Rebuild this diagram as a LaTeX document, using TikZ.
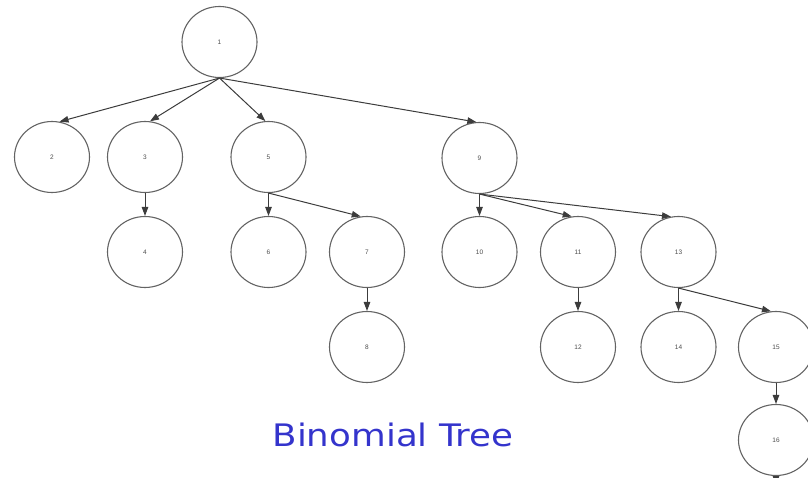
\documentclass[tikz,border=0pt]{standalone}
\usepackage{fontspec}
\setsansfont{DejaVu Sans}
\newfontfamily\labelfont{Liberation Sans}
\usetikzlibrary{shapes.geometric,arrows.meta}
\definecolor{titleblue}{RGB}{52,52,204}
\definecolor{linegray}{RGB}{60,60,60}
\tikzset{
  tnode/.style={ellipse, draw=linegray!80, line width=1.1pt, minimum width=75pt, minimum height=71pt, inner sep=0pt,
    font=\labelfont\fontsize{6.5}{7}\selectfont, text=black!70},
  tedge/.style={draw=linegray, line width=1pt, -{Triangle[length=9pt,width=6.5pt]}}
}
\begin{document}
\begin{tikzpicture}[x=1pt,y=-1pt]
\useasboundingbox (0,0) rectangle (808,478);
\node[tnode] (n1) at (219.5,42) {1};
\node[tnode] (n2) at (52,157) {2};
\node[tnode] (n3) at (145,157) {3};
\node[tnode] (n5) at (268.5,157) {5};
\node[tnode] (n9) at (479.5,158) {9};
\node[tnode] (n4) at (145,252) {4};
\node[tnode] (n6) at (268.5,252) {6};
\node[tnode] (n7) at (367,252) {7};
\node[tnode] (n10) at (479.5,252) {10};
\node[tnode] (n11) at (578,252) {11};
\node[tnode] (n13) at (678.5,252) {13};
\node[tnode] (n8) at (367,347) {8};
\node[tnode] (n12) at (578,347) {12};
\node[tnode] (n14) at (678.5,347) {14};
\node[tnode] (n15) at (776,347) {15};
\node[tnode] (n16) at (776,440) {16};
\coordinate (n17) at (776,485);
\draw[tedge] (n1.south) -- (n2.78);
\draw[tedge] (n1.south) -- (n3.82);
\draw[tedge] (n1.south) -- (n5.95);
\draw[tedge] (n1.south) -- (n9.95);
\draw[tedge] (n3.south) -- (n4.north);
\draw[tedge] (n5.south) -- (n6.north);
\draw[tedge] (n5.south) -- (n7.100);
\draw[tedge] (n7.south) -- (n8.north);
\draw[tedge] (n9.south) -- (n10.north);
\draw[tedge] (n9.south) -- (n11.100);
\draw[tedge] (n9.south) -- (n13.102);
\draw[tedge] (n11.south) -- (n12.north);
\draw[tedge] (n13.south) -- (n14.north);
\draw[tedge] (n13.south) -- (n15.98);
\draw[tedge] (n15.south) -- (n16.north);
\draw[tedge] (n16.south) -- (n17);
\node[font=\sffamily\fontsize{31}{36}\selectfont, text=titleblue, xscale=1.15] (title) at (393,435) {Binomial Tree};
\end{tikzpicture}
\end{document}
